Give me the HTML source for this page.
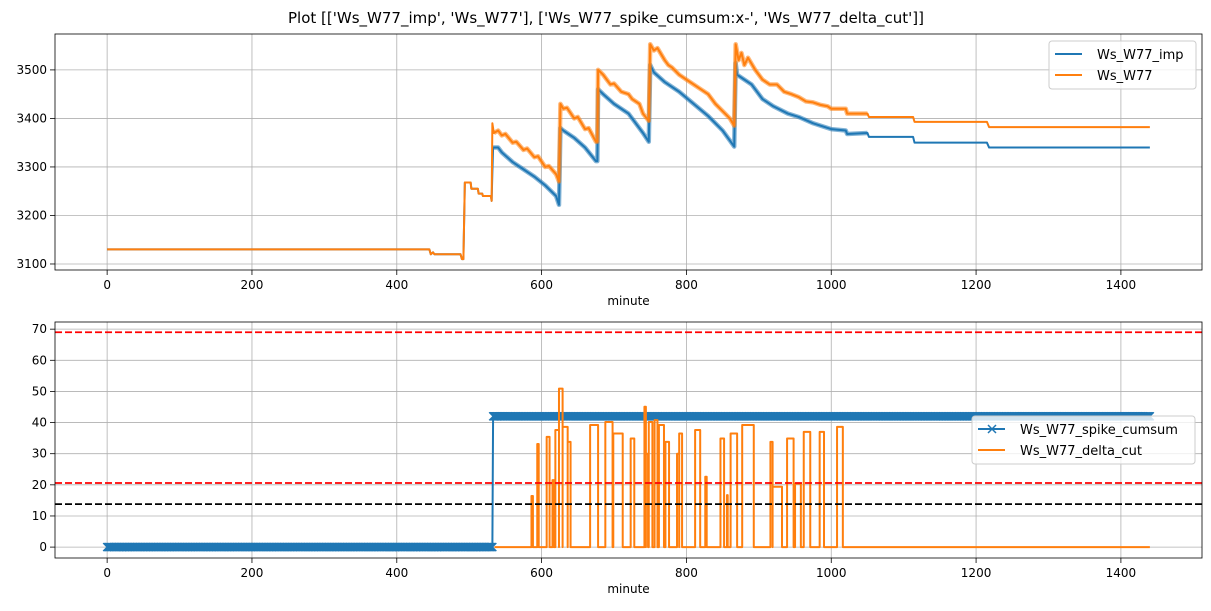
<!DOCTYPE html>
<html><head><meta charset="utf-8"><style>
body{margin:0;background:#fff;}
svg{display:block;font-family:"DejaVu Sans","Liberation Sans",sans-serif;}
</style></head><body>
<svg id="fig" width="1211" height="611" viewBox="0 0 1211 611">
<text x="606" y="23" text-anchor="middle" font-size="15">Plot [['Ws_W77_imp', 'Ws_W77'], ['Ws_W77_spike_cumsum:x-', 'Ws_W77_delta_cut']]</text>
<g id="top"></g>
<g id="bot"></g>
</svg>
<script>
const xTicks=[0,200,400,600,800,1000,1200,1400];
const topYTicks=[3100,3200,3300,3400,3500];
const botYTicks=[0,10,20,30,40,50,60,70];
const impMin=[0,445,447,450,452,488,490,492,494,502,503,512,513,518,519,530,531,532,533,540,545,560,575,590,605,620,624,626,630,645,660,675,677,678,685,700,720,740,748,750,755,770,790,810,830,850,866,868,870,880,890,905,920,940,955,975,1000,1020,1022,1050,1052,1113,1115,1215,1218,1440];
const impVal=[3130,3130,3120,3124,3120,3120,3110,3110,3268,3268,3255,3255,3245,3245,3240,3240,3230,3290,3340,3340,3330,3310,3295,3280,3262,3240,3222,3380,3375,3360,3340,3312,3312,3460,3450,3430,3410,3370,3352,3510,3495,3475,3455,3430,3405,3375,3342,3514,3490,3480,3470,3440,3425,3410,3403,3390,3378,3375,3368,3370,3362,3362,3350,3350,3340,3340];
const wsMin=[0,445,447,450,452,488,490,492,494,502,503,512,513,518,519,530,531,532,534,540,545,550,560,565,575,580,590,595,605,610,620,624,626,630,635,645,650,660,665,675,677,678,685,690,695,700,710,720,725,735,740,748,750,755,760,770,775,780,790,800,810,820,830,840,850,860,866,868,872,876,880,885,895,905,915,925,935,945,955,965,975,985,995,1000,1020,1022,1050,1052,1113,1115,1215,1218,1440];
const wsVal=[3130,3130,3120,3124,3120,3120,3110,3110,3268,3268,3255,3255,3245,3245,3240,3240,3230,3390,3370,3375,3365,3368,3350,3352,3335,3338,3320,3322,3300,3302,3285,3270,3430,3420,3422,3400,3403,3378,3380,3352,3352,3500,3490,3480,3470,3472,3455,3450,3440,3430,3410,3395,3553,3540,3545,3520,3510,3505,3490,3480,3470,3460,3450,3430,3415,3400,3385,3553,3520,3535,3510,3525,3500,3480,3470,3470,3455,3450,3444,3435,3433,3428,3425,3420,3420,3410,3410,3403,3403,3393,3393,3382,3382];
const spikeMin=[0,532,533,1440];
const spikeVal=[0,0,42,42];
const pulseStart=[586,594,607,615,619,624,629,636,667,688,699,723,742,744,748,756,762,771,787,790,812,826,847,856,861,877,916,919,939,950,962,984,1008];
const pulseEnd=[588,596,611,617,624,629,636,640,678,698,712,728,744,747,753,760,769,776,790,794,819,828,852,857,870,893,919,932,948,958,971,990,1016];
const pulseHeight=[16.4,33.1,35.4,21.5,37.6,50.9,38.6,33.8,39.2,40.2,36.5,34.9,45.1,30,40.2,40.8,39.2,33.8,30,36.5,37.6,22.6,34.9,16.7,36.5,39.2,33.8,19.4,34.9,20.4,37.0,37.0,38.6];
const hLines=[69,20.6,13.8];
const hColors=['#ff0000','#ff0000','#000000'];

const NS='http://www.w3.org/2000/svg';
function mk(p,tag,at){const e=document.createElementNS(NS,tag);for(const k in at)e.setAttribute(k,at[k]);p.appendChild(e);return e;}
const L=55,R=1202,xmin=-72,xmax=1512;
const X=v=>L+(v-xmin)/(xmax-xmin)*(R-L);
function yScale(top,bot,lo,hi){return v=>bot-(v-lo)/(hi-lo)*(bot-top);}

function axes(g,top,bot,Y,yt,name){
  for(const t of xTicks){const l=mk(g,'line',{x1:X(t),x2:X(t),y1:top,y2:bot,stroke:'#b0b0b0','stroke-width':0.8});
    
    mk(g,'line',{x1:X(t),x2:X(t),y1:bot,y2:bot+5,stroke:'#000','stroke-width':0.8});
    const tx=mk(g,'text',{x:X(t),y:bot+19,'text-anchor':'middle','font-size':12});tx.textContent=t;
    }
  for(const t of yt){const l=mk(g,'line',{x1:L,x2:R,y1:Y(t),y2:Y(t),stroke:'#b0b0b0','stroke-width':0.8});
    
    mk(g,'line',{x1:L-5,x2:L,y1:Y(t),y2:Y(t),stroke:'#000','stroke-width':0.8});
    const tx=mk(g,'text',{x:L-8,y:Y(t)+4,'text-anchor':'end','font-size':12});tx.textContent=t;
    }
  const xl=mk(g,'text',{x:(L+R)/2,y:bot+35,'text-anchor':'middle','font-size':12});xl.textContent='minute';
  
}
function frame(g,top,bot,name){const r=mk(g,'rect',{x:L,y:top,width:R-L,height:bot-top,fill:'none',stroke:'#000','stroke-width':0.8});
  }
function line(g,xs,ys,Y,color,name,w,op){const d=xs.map((x,i)=>(i?'L':'M')+X(x).toFixed(2)+' '+Y(ys[i]).toFixed(2)).join('');
  const p=mk(g,'path',{d,fill:'none',stroke:color,'stroke-width':w||2,'stroke-linejoin':'round','stroke-opacity':op||1});
  return p;}
function noisy(g,xs,ys,Y,color,name){const a=[],b=[];xs.forEach((x,i)=>{if(x>=533&&x<=1050){a.push(x);b.push(ys[i]);}});
  line(g,a,b,Y,color,name,4.5,0.55);}
function legend(g,x,y,w,items){const h=items.length*21+6;
  const r=mk(g,'rect',{x,y,width:w,height:h,fill:'#fff','fill-opacity':0.8,stroke:'#ccc',rx:3});
  
  items.forEach((it,i)=>{const yy=y+13+i*21;
    mk(g,'line',{x1:x+6,x2:x+33,y1:yy,y2:yy,stroke:it[1],'stroke-width':2});
    if(it[2])mk(g,'path',{d:`M${x+16} ${yy-4}l8 8M${x+16} ${yy+4}l8 -8`,stroke:it[1],'stroke-width':1.5});
    const t=mk(g,'text',{x:x+48,y:yy+5,'font-size':13});t.textContent=it[0];
    });}

// top
const gt=document.getElementById('top');const tT=34,tB=270;
const Yt=yScale(tT,tB,3087.6,3574);
axes(gt,tT,tB,Yt,topYTicks,'top');
noisy(gt,impMin,impVal,Yt,'#1f77b4','ws-w77-imp-noise');
line(gt,impMin,impVal,Yt,'#1f77b4','ws-w77-imp-line');
noisy(gt,wsMin,wsVal,Yt,'#ff7f0e','ws-w77-noise');
line(gt,wsMin,wsVal,Yt,'#ff7f0e','ws-w77-line');
frame(gt,tT,tB,'top');
legend(gt,1049,41,147,[['Ws_W77_imp','#1f77b4'],['Ws_W77','#ff7f0e']]);

// bottom
const gb=document.getElementById('bot');const bT=322,bB=558;
const Yb=yScale(bT,bB,-3.5,72.3);
axes(gb,bT,bB,Yb,botYTicks,'bottom');
const sx=[],sy=[];
for(let m=0;m<=1440;m++){let v=spikeVal[0];for(let i=0;i<spikeMin.length;i++){if(m>=spikeMin[i])v=spikeVal[i];}
  if(m>spikeMin[1])v=spikeVal[2];sx.push(m);sy.push(v);}
line(gb,spikeMin,spikeVal,Yb,'#1f77b4','spike-cumsum-line');
let md='';sx.forEach((m,i)=>{const px=X(m),py=Yb(sy[i]);md+=`M${(px-4).toFixed(1)} ${(py-4).toFixed(1)}l8 8M${(px-4).toFixed(1)} ${(py+4).toFixed(1)}l8 -8`;});
const mp=mk(gb,'path',{d:md,stroke:'#1f77b4','stroke-width':1.3,fill:'none'});


const dx=[535],dy=[0];
pulseStart.forEach((s,i)=>{dx.push(s,s,pulseEnd[i],pulseEnd[i]);dy.push(0,pulseHeight[i],pulseHeight[i],0);});
dx.push(1440);dy.push(0);
line(gb,dx,dy,Yb,'#ff7f0e','delta-cut-line');
hLines.forEach((v,i)=>{const l=mk(gb,'line',{x1:L,x2:R,y1:Yb(v),y2:Yb(v),stroke:hColors[i],'stroke-width':1.8,'stroke-dasharray':'7,3'});
  
  });
frame(gb,bT,bB,'bottom');
legend(gb,972,416,223,[['Ws_W77_spike_cumsum','#1f77b4',true],['Ws_W77_delta_cut','#ff7f0e']]);
</script>
</body></html>
